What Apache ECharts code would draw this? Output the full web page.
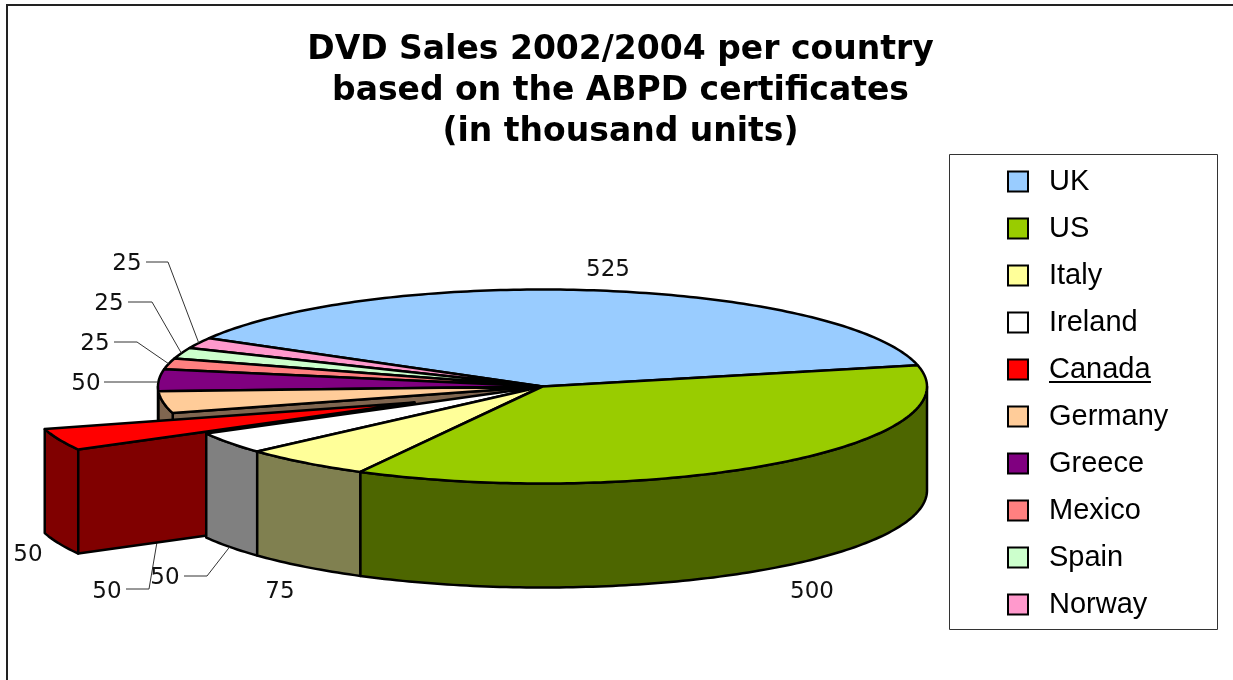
<!DOCTYPE html>
<html>
<head>
<meta charset="utf-8">
<style>html,body{margin:0;padding:0;background:#fff}#chart{width:1233px;height:680px}</style>
<script src="https://cdn.jsdelivr.net/npm/echarts@6/dist/echarts.min.js"></script>
</head>
<body>
<div id="chart"></div>
<script>
// Sales per country, in thousand units
const countries = ['UK', 'US', 'Italy', 'Ireland', 'Canada', 'Germany', 'Greece', 'Mexico', 'Spain', 'Norway'];
const sales = [525, 500, 75, 50, 50, 50, 50, 25, 25, 25];
const topColors = ['#99ccff', '#99cc00', '#ffff99', '#ffffff', '#ff0000', '#ffcc99', '#800080', '#ff8080', '#ccffcc', '#ff99cc'];
const wallColors = ['#4d6680', '#4d6600', '#808050', '#808080', '#800000', '#806650', '#400040', '#804040', '#668066', '#804d66'];

// Back-to-front paint order of the slices
const paintOrder = ['UK', 'Norway', 'Spain', 'Mexico', 'Greece', 'Germany', 'Canada', 'Ireland', 'Italy', 'US'];

// Pie geometry (pixels)
const CX = 542.5, CY = 386.5, RX = 384.5, RY = 97, DEPTH = 104;
const START_DEG = 150.1;
const EXPLODED = { Canada: [-128, 16] };

// Label placement: text centre, then the knee and foot of the leader line
const labelLayout = {
  UK:      { at: [608, 270] },
  US:      { at: [812, 592] },
  Italy:   { at: [280, 592] },
  Ireland: { at: [165, 578], line: [[184, 576], [207, 576]], front: true },
  Canada:  { at: [28, 555] },
  Germany: { at: [107, 592], line: [[126, 589], [149, 589]], foot: [157, 542] },
  Greece:  { at: [86, 384], line: [[104, 382]], foot: [158, 382] },
  Mexico:  { at: [95, 344], line: [[114, 342], [137, 342]] },
  Spain:   { at: [109, 304], line: [[128, 302], [152, 302]] },
  Norway:  { at: [127, 264], line: [[146, 262], [168, 262]] }
};

const total = sales.reduce((a, b) => a + b, 0);
const spans = {};
let running = START_DEG;
countries.forEach((name, i) => {
  const sweep = sales[i] / total * 360;
  spans[name] = [running, running - sweep];
  running -= sweep;
});

const rad = d => d * Math.PI / 180;
function rimPoint(deg, off, drop) {
  return [CX + off[0] + RX * Math.cos(rad(deg)), CY + off[1] - RY * Math.sin(rad(deg)) + drop];
}
function arc(from, to, off, drop) {
  const pts = [];
  const n = Math.max(2, Math.ceil(Math.abs(from - to)));
  for (let k = 0; k <= n; k++) pts.push(rimPoint(from + (to - from) * k / n, off, drop));
  return pts;
}
const strokeStyle = fill => ({ fill, stroke: '#000', lineWidth: 2.5, lineJoin: 'round' });

function sliceShapes(name, index) {
  const [a, b] = spans[name];
  const off = EXPLODED[name] || [0, 0];
  const apex = [CX + off[0], CY + off[1]];
  const kids = [];
  const poly = (points, fill) => kids.push({ type: 'polygon', shape: { points }, style: strokeStyle(fill) });

  // Germany's cut face shows through the gap left by the pulled-out slice
  if (name === 'Germany') {
    const r = rimPoint(a, off, 0);
    poly([apex, r, [r[0], r[1] + DEPTH], [apex[0], apex[1] + DEPTH]], wallColors[index]);
  }
  // Outer wall: only the front half of the ellipse (0 to -180 degrees) is visible
  const from = Math.min(a, 0);
  const to = Math.max(b, -180);
  if (from > to) {
    poly(arc(from, to, off, 0).concat(arc(to, from, off, DEPTH)), wallColors[index]);
  }
  // Cut face of the pulled-out slice, turned towards the viewer
  if (EXPLODED[name]) {
    const r = rimPoint(a, off, 0);
    poly([apex, r, [r[0], r[1] + DEPTH], [apex[0], apex[1] + DEPTH]], wallColors[index]);
  }
  poly([apex].concat(arc(a, b, off, 0)), topColors[index]);
  return kids;
}

function labelShapes(name, value) {
  const layout = labelLayout[name], kids = [];
  const [a, b] = spans[name];
  if (layout.line) {
    const foot = layout.foot || rimPoint((a + b) / 2, EXPLODED[name] || [0, 0], layout.front ? DEPTH : 0);
    kids.push({
      type: 'polyline',
      shape: { points: layout.line.concat([foot]) },
      style: { fill: null, stroke: '#333', lineWidth: 1 }
    });
  }
  kids.push({
    type: 'text',
    style: {
      x: layout.at[0], y: layout.at[1], text: String(value),
      font: '23px "DejaVu Sans"', fill: '#111', align: 'center', verticalAlign: 'middle'
    },
    z2: 50
  });
  return kids;
}

const series = countries.map((name, index) => ({
  name,
  type: 'custom',
  coordinateSystem: 'none',
  silent: true,
  animation: false,
  z: 2 + paintOrder.indexOf(name),
  itemStyle: { color: topColors[index] },
  data: [[sales[index]]],
  renderItem: (params, api) => ({
    type: 'group',
    children: sliceShapes(name, index).concat(labelShapes(name, api.value(0)))
  })
}));

const chart = echarts.init(document.getElementById('chart'), null, { renderer: 'canvas' });
chart.setOption({
  animation: false,
  backgroundColor: '#fff',
  title: {
    text: 'DVD Sales 2002/2004 per country\nbased on the ABPD certificates\n(in thousand units)',
    left: 620.5, top: 30, padding: 0, textAlign: 'center',
    textStyle: { fontFamily: 'DejaVu Sans', fontWeight: 'bold', fontSize: 33, lineHeight: 41, color: '#000' }
  },
  legend: {
    data: countries, orient: 'vertical', left: 1007, top: 167, padding: 0,
    itemWidth: 20, itemHeight: 20, itemGap: 18, icon: 'rect',
    selectedMode: false, inactiveColor: '#000',
    itemStyle: { borderColor: '#000', borderWidth: 2 },
    textStyle: { fontFamily: 'Liberation Sans', fontSize: 29, lineHeight: 29, color: '#000', padding: [0, 0, 0, 16] }
  },
  graphic: [
    { type: 'polyline', shape: { points: [[7, 680], [7, 5], [1233, 5]] }, style: { fill: null, stroke: '#222', lineWidth: 2 }, silent: true },
    { type: 'rect', shape: { x: 949.5, y: 154.5, width: 268, height: 475 }, style: { fill: '#fff', stroke: '#333', lineWidth: 1 }, z: 0, silent: true },
    { type: 'line', shape: { x1: 1049, y1: 382, x2: 1151, y2: 382 }, style: { stroke: '#000', lineWidth: 2 }, z: 10, silent: true }
  ],
  series
});
</script>
</body>
</html>
